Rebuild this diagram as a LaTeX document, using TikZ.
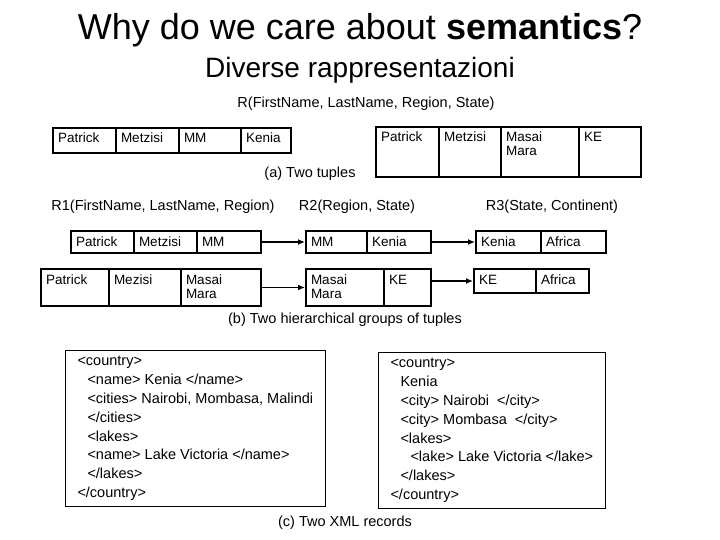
\documentclass[tikz,border=0pt]{standalone}
\usepackage{fontspec}
\setmainfont{Liberation Sans}
\usetikzlibrary{arrows.meta}
\newcommand\cel[6]{%
  \pgfmathsetmacro\cw{#4-10}\pgfmathsetmacro\cd{#5-18}%
  \node[cellbox, minimum width=#4pt, minimum height=#5pt, text width=\cw pt, text depth=\cd pt] (#1) at (#2,-#3) {#6};}
\newcommand\ind{\hspace*{10pt}}
\begin{document}
\begin{tikzpicture}[x=1pt,y=1pt,
  cellbox/.style={draw, line width=2pt, anchor=north west, inner xsep=5pt, inner ysep=3pt, text height=12pt, align=left, font=\fontsize{13.5}{14}\selectfont},
  lbl/.style={font=\fontsize{14.5}{16}\selectfont},
  xml/.style={draw, line width=1pt, anchor=north west, align=left, inner xsep=12pt, inner ysep=6pt, font=\fontsize{14.5}{18.8}\selectfont},
  arr/.style={line width=1.8pt, -{Latex[length=7pt,width=6pt]}}]
\useasboundingbox (0,0) rectangle (720,-540);
\node[font=\fontsize{36}{38}\selectfont] (title) at (360,-30) {Why do we care about \textbf{semantics}?};
\node[font=\fontsize{28}{30}\selectfont] (sub) at (360,-70) {Diverse rappresentazioni};
\node[lbl] (R) at (366,-104) {R(FirstName, LastName, Region, State)};
% (a)
\cel{a1}{52}{127}{63}{25}{Patrick}
\cel{a2}{115}{127}{63}{25}{Metzisi}
\cel{a3}{178}{127}{62}{25}{MM}
\cel{a4}{240}{127}{50}{25}{Kenia}
\cel{a5}{375}{126}{63}{50}{Patrick}
\cel{a6}{438}{126}{62}{50}{Metzisi}
\cel{a7}{500}{126}{78}{50}{Masai\\Mara}
\cel{a8}{578}{126}{62}{50}{KE}
\node[lbl] (capa) at (310,-174) {(a) Two tuples};
% (b)
\node[lbl] (R1) at (163,-207) {R1(FirstName, LastName, Region)};
\node[lbl] (R2) at (357,-207) {R2(Region, State)};
\node[lbl] (R3) at (552,-207) {R3(State, Continent)};
\cel{b1}{70}{230}{63}{22}{Patrick}
\cel{b2}{133}{230}{63}{22}{Metzisi}
\cel{b3}{196}{230}{64}{22}{MM}
\cel{b4}{305}{230}{61}{22}{MM}
\cel{b5}{366}{230}{64}{22}{Kenia}
\cel{b6}{475}{230}{65}{22}{Kenia}
\cel{b7}{540}{230}{65}{22}{Africa}
\cel{c1}{40}{268}{68}{37}{Patrick}
\cel{c2}{108}{268}{72}{37}{Mezisi}
\cel{c3}{180}{268}{80}{37}{Masai\\Mara}
\cel{c4}{305}{268}{78}{37}{Masai\\Mara}
\cel{c5}{383}{268}{47}{37}{KE}
\cel{c6}{473}{268}{62}{24}{KE}
\cel{c7}{535}{268}{53}{24}{Africa}
\draw[arr] (b3.east) -- (b4.west);
\draw[arr] (b5.east) -- (b6.west);
\draw[arr] (c3.east) -- (c4.west);
\draw[arr] (c5.east |- c6.west) -- (c6.west);
\node[lbl] (capb) at (345,-320) {(b) Two hierarchical groups of tuples};
% (c)
\node[xml, minimum width=252pt, minimum height=148pt] (x1) at (65,-350) {%
<country>\\
\ind <name> Kenia </name>\\
\ind <cities> Nairobi, Mombasa, Malindi\\
\ind </cities>\\
\ind <lakes>\\
\ind <name> Lake Victoria </name>\\
\ind </lakes>\\
</country>};
\node[xml, minimum width=222pt, minimum height=145pt] (x2) at (378,-352) {%
<country>\\
\ind Kenia\\
\ind <city> Nairobi \ </city>\\
\ind <city> Mombasa \ </city>\\
\ind <lakes>\\
\ind\ind <lake> Lake Victoria </lake>\\
\ind </lakes>\\
</country>};
\node[lbl] (capc) at (345,-523) {(c) Two XML records};
\end{tikzpicture}
\end{document}
